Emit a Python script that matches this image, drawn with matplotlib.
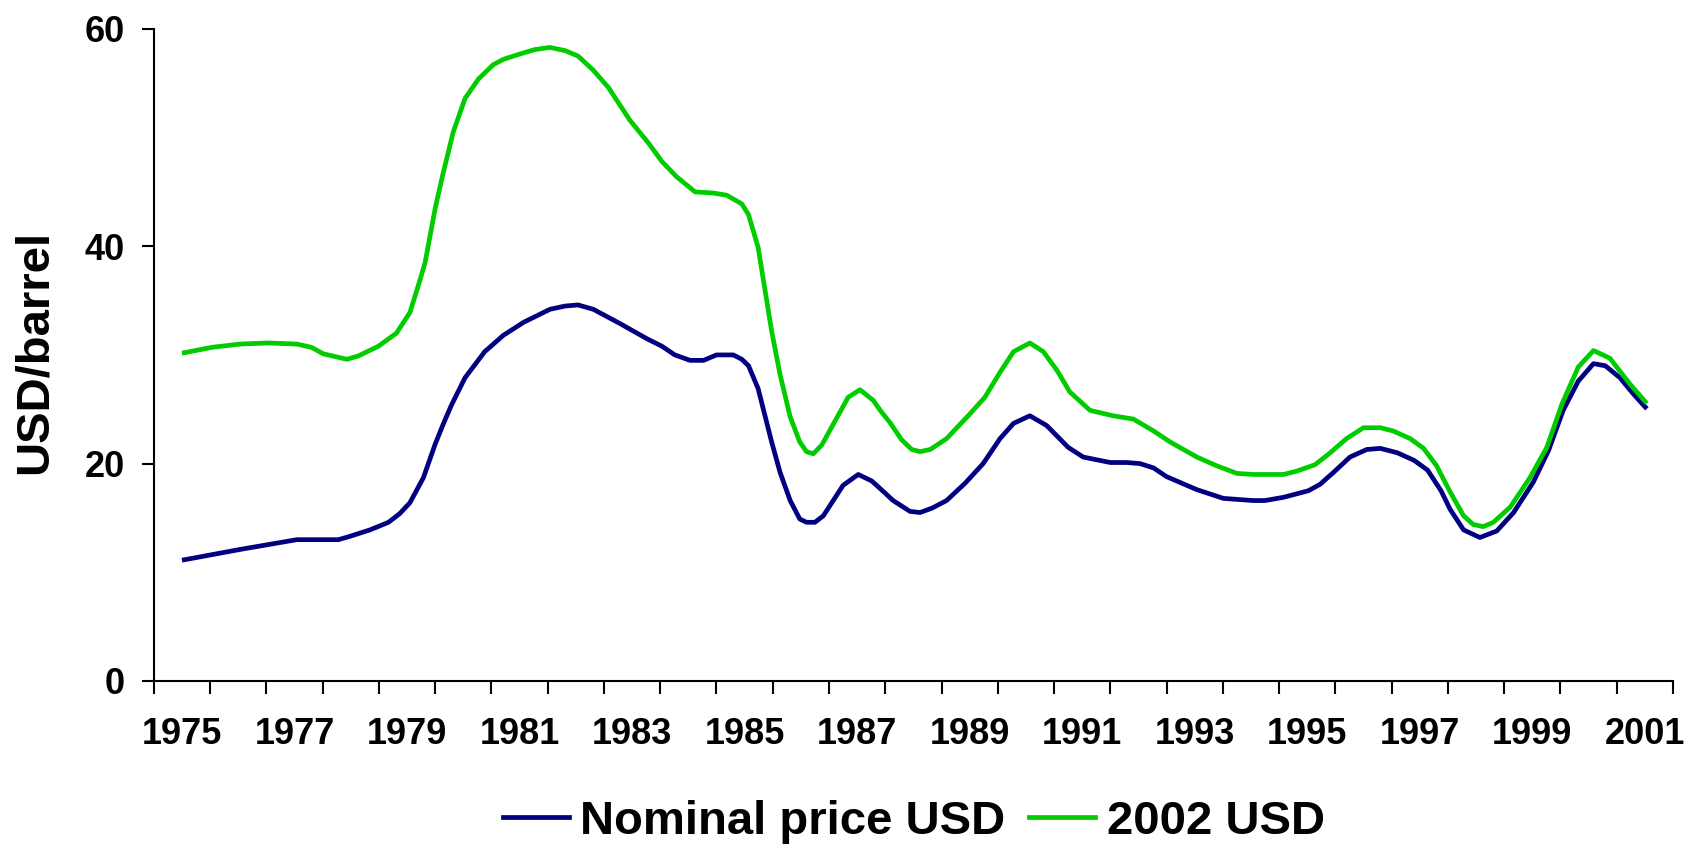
import matplotlib
matplotlib.use("Agg")
import matplotlib.pyplot as plt

plt.rcParams["font.family"] = ["Liberation Sans", "DejaVu Sans"]
plt.rcParams["font.weight"] = "bold"

# Nominal price, USD/barrel
nominal_years = [
    1975.54, 1976.53, 1977.54, 1978.28, 1978.48, 1978.84, 1979.17, 1979.37, 1979.55,
    1979.79, 1980.00, 1980.14, 1980.29, 1980.53, 1980.88, 1981.21, 1981.57, 1982.04,
    1982.31, 1982.54, 1982.81, 1983.28, 1983.76, 1984.03, 1984.26, 1984.53, 1984.77,
    1985.00, 1985.30, 1985.45, 1985.57, 1985.74, 1985.98, 1986.13, 1986.31, 1986.48,
    1986.60, 1986.75, 1986.90, 1987.05, 1987.25, 1987.52, 1987.76, 1987.91, 1988.14,
    1988.44, 1988.62, 1988.83, 1989.09, 1989.42, 1989.74, 1990.04, 1990.28, 1990.57,
    1990.87, 1991.25, 1991.52, 1992.00, 1992.29, 1992.53, 1992.77, 1993.00, 1993.54,
    1994.01, 1994.54, 1994.75, 1995.08, 1995.52, 1995.73, 1995.97, 1996.26, 1996.56,
    1996.80, 1997.10, 1997.40, 1997.64, 1997.88, 1998.04, 1998.28, 1998.57, 1998.87,
    1999.17, 1999.52, 1999.79, 2000.05, 2000.32, 2000.59, 2000.80, 2001.06, 2001.30,
    2001.51,
]
nominal_price = [
    11.15, 12.1, 13.0, 13.0, 13.3, 13.9, 14.6, 15.4, 16.4,
    18.7, 21.8, 23.6, 25.4, 27.9, 30.3, 31.8, 33.0, 34.2,
    34.5, 34.6, 34.2, 32.9, 31.5, 30.8, 30.0, 29.5, 29.5,
    30.0, 30.0, 29.6, 29.0, 26.9, 22.0, 19.2, 16.6, 14.9,
    14.6, 14.6, 15.2, 16.4, 18.0, 19.0, 18.4, 17.7, 16.6,
    15.6, 15.5, 15.9, 16.6, 18.2, 20.0, 22.3, 23.7, 24.4,
    23.5, 21.5, 20.6, 20.1, 20.1, 20.0, 19.6, 18.8, 17.6,
    16.8, 16.6, 16.6, 16.9, 17.5, 18.1, 19.2, 20.6, 21.3,
    21.4, 21.0, 20.3, 19.4, 17.5, 15.8, 13.9, 13.2, 13.8,
    15.5, 18.3, 21.2, 24.9, 27.6, 29.2, 29.0, 27.9, 26.4,
    25.2,
]

# Price in 2002 USD
real_years = [
    1975.54, 1976.03, 1976.53, 1977.03, 1977.54, 1977.80, 1978.01, 1978.43, 1978.63,
    1978.99, 1979.31, 1979.55, 1979.73, 1979.82, 1980.00, 1980.14, 1980.32, 1980.53,
    1980.77, 1981.03, 1981.21, 1981.51, 1981.77, 1982.04, 1982.31, 1982.54, 1982.81,
    1983.08, 1983.46, 1983.79, 1984.03, 1984.29, 1984.62, 1984.94, 1985.18, 1985.45,
    1985.57, 1985.74, 1985.98, 1986.13, 1986.31, 1986.48, 1986.60, 1986.72, 1986.87,
    1987.02, 1987.17, 1987.34, 1987.55, 1987.79, 1987.91, 1988.08, 1988.29, 1988.47,
    1988.62, 1988.80, 1989.09, 1989.51, 1989.77, 1990.04, 1990.28, 1990.57, 1990.81,
    1991.05, 1991.28, 1991.64, 1992.05, 1992.41, 1992.77, 1993.06, 1993.54, 1993.89,
    1994.25, 1994.54, 1995.08, 1995.31, 1995.64, 1995.91, 1996.20, 1996.50, 1996.80,
    1997.03, 1997.33, 1997.57, 1997.80, 1998.04, 1998.28, 1998.45, 1998.63, 1998.81,
    1999.11, 1999.46, 1999.76, 2000.03, 2000.32, 2000.59, 2000.88, 2001.24, 2001.51,
]
real_price = [
    30.2, 30.7, 31.0, 31.1, 31.0, 30.7, 30.1, 29.6, 29.9,
    30.8, 32.0, 33.9, 36.9, 38.5, 43.5, 46.7, 50.5, 53.6,
    55.4, 56.7, 57.2, 57.7, 58.1, 58.3, 58.0, 57.5, 56.2,
    54.6, 51.6, 49.5, 47.8, 46.4, 45.0, 44.9, 44.7, 43.9,
    42.9, 39.9, 32.2, 28.2, 24.3, 22.0, 21.1, 20.9, 21.7,
    23.1, 24.5, 26.1, 26.8, 25.8, 24.9, 23.8, 22.2, 21.3,
    21.1, 21.3, 22.3, 24.6, 26.1, 28.4, 30.3, 31.1, 30.3,
    28.6, 26.6, 24.9, 24.4, 24.1, 23.0, 22.0, 20.6, 19.8,
    19.1, 19.0, 19.0, 19.3, 19.9, 21.0, 22.3, 23.3, 23.3,
    23.0, 22.3, 21.4, 19.8, 17.4, 15.2, 14.4, 14.2, 14.6,
    16.0, 18.7, 21.5, 25.5, 28.9, 30.4, 29.7, 27.3, 25.7,
]

series_labels = ["Nominal price USD", "2002 USD"]
y_ticks = [0, 20, 40, 60]
first_year, last_year = 1975, 2001

fig = plt.figure(figsize=(16.86, 8.48), dpi=100)
ax = fig.add_axes([0.0913, 0.197, 0.9009, 0.7689])

ax.plot(nominal_years, nominal_price, color="#000080", lw=3.4,
        solid_joinstyle="round", label=series_labels[0])
ax.plot(real_years, real_price, color="#00CC00", lw=3.4,
        solid_joinstyle="round", label=series_labels[1])

ax.set_xlim(first_year, last_year + 1)
ax.set_ylim(0, 60)

# tick marks between years, labels centred on every other year
ax.set_xticks(range(first_year, last_year + 2))
ax.set_xticklabels([])
label_years = list(range(first_year, last_year + 1, 2))
ax.set_xticks([y + 0.5 for y in label_years], minor=True)
ax.set_xticklabels([str(y) for y in label_years], minor=True,
                   fontsize=26, fontweight="bold")
ax.tick_params(axis="x", which="major", direction="out", length=9, width=1.5)
ax.tick_params(axis="x", which="minor", length=0, pad=26)

ax.set_yticks(y_ticks)
ax.set_yticklabels([str(v) for v in y_ticks], fontsize=26, fontweight="bold")
ax.tick_params(axis="y", direction="out", length=9, width=1.5, pad=12)

for side in ("top", "right"):
    ax.spines[side].set_visible(False)
for side in ("left", "bottom"):
    ax.spines[side].set_linewidth(1.5)

fig.text(35 / 1686, 1 - 352 / 848, "USD/barrel", rotation=90, ha="center",
         va="center", fontsize=34, fontweight="bold")

fig.legend(loc="center", bbox_to_anchor=(0.542, 0.031), ncol=2, frameon=False,
           handlelength=1.4, handletextpad=0.25, columnspacing=0.5,
           prop={"weight": "bold", "size": 34})

fig.savefig("out.png", dpi=100)
